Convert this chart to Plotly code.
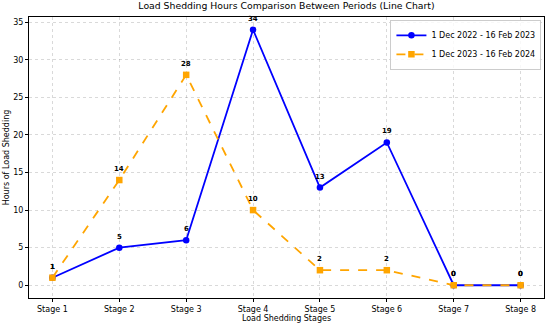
import plotly.graph_objects as go

stages = ["Stage 1", "Stage 2", "Stage 3", "Stage 4", "Stage 5", "Stage 6", "Stage 7", "Stage 8"]
hours_2022 = [1, 5, 6, 34, 13, 19, 0, 0]
hours_2023 = [1, 14, 28, 10, 2, 2, 0, 0]
name_2022 = "1 Dec 2022 - 16 Feb 2023"
name_2023 = "1 Dec 2023 - 16 Feb 2024"
y_ticks = [0, 5, 10, 15, 20, 25, 30, 35]

FONT = "DejaVu Sans"
fig = go.Figure()
fig.add_trace(go.Scatter(
    x=list(range(len(stages))), y=hours_2022, name=name_2022,
    mode="lines+markers", line=dict(color="blue", width=1.8),
    marker=dict(symbol="circle", size=6.5, color="blue")))
fig.add_trace(go.Scatter(
    x=list(range(len(stages))), y=hours_2023, name=name_2023,
    mode="lines+markers", line=dict(color="orange", width=1.8, dash="dash"),
    marker=dict(symbol="square", size=6.5, color="orange")))

for series in (hours_2022, hours_2023):
    for i, v in enumerate(series):
        fig.add_annotation(x=i, y=v, text=f"<b>{v}</b>", showarrow=False,
                           yshift=11, font=dict(family=FONT, size=7, color="black"))

axis_common = dict(showline=True, linecolor="black", linewidth=1, mirror=True,
                   showgrid=True, gridcolor="rgba(0,0,0,0.15)", griddash="dot",
                   ticks="outside", ticklen=3, tickcolor="black", zeroline=False,
                   automargin=False,
                   tickfont=dict(family=FONT, size=8, color="black"))

fig.update_layout(
    width=550, height=328,
    margin=dict(l=29, r=6, t=17, b=30),
    paper_bgcolor="white", plot_bgcolor="white",
    font=dict(family=FONT, color="black"),
    title=dict(text="Load Shedding Hours Comparison Between Periods (Line Chart)",
               xref="paper", x=0.5, xanchor="center", y=0.993, yanchor="top",
               font=dict(family=FONT, size=9.3, color="black")),
    xaxis=dict(range=[-0.35, 7.35], tickmode="array",
               tickvals=list(range(len(stages))), ticktext=stages,
               title=dict(text="Load Shedding Stages", standoff=1,
                          font=dict(family=FONT, size=8)),
               **axis_common),
    yaxis=dict(range=[-1.7, 35.7], tickmode="array", tickvals=y_ticks,
               title=dict(text="Hours of Load Shedding", standoff=2,
                          font=dict(family=FONT, size=8)),
               **axis_common),
    legend=dict(x=0.995, y=0.99, xanchor="right", yanchor="top",
                bgcolor="rgba(255,255,255,0.8)", bordercolor="#cccccc", borderwidth=1,
                font=dict(family=FONT, size=8), tracegroupgap=0, itemwidth=30),
    showlegend=True,
)

fig.write_html("out.html", config={"displayModeBar": False},
               post_script="document.body.style.margin='0';")
